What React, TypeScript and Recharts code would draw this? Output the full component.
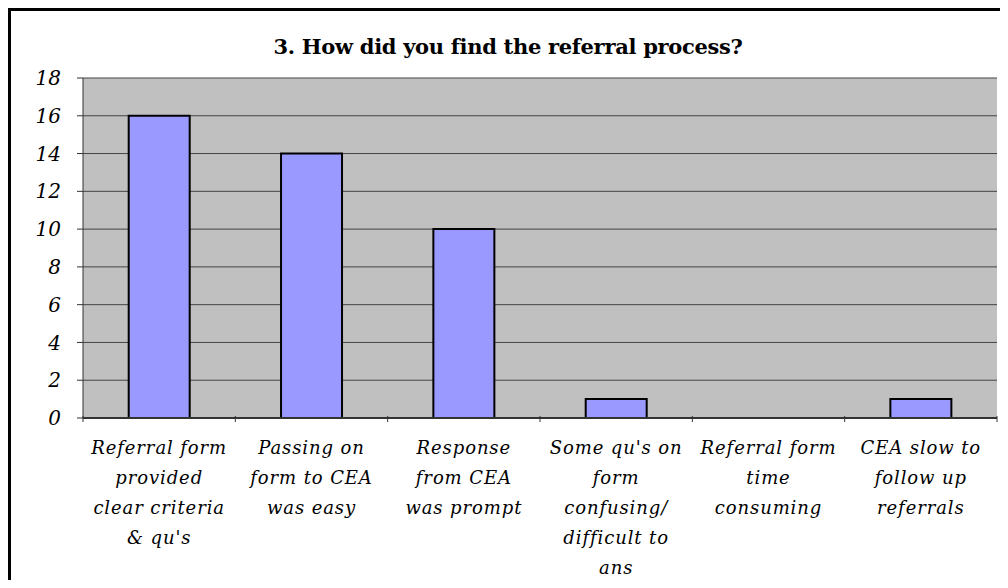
import { Bar, BarChart, CartesianGrid, XAxis, YAxis } from 'recharts'

const categories = [
	'Referral form\nprovided\nclear criteria\n& qu\'s',
	'Passing on\nform to CEA\nwas easy',
	'Response\nfrom CEA\nwas prompt',
	'Some qu\'s on\nform\nconfusing/\ndifficult to\nans',
	'Referral form\ntime\nconsuming',
	'CEA slow to\nfollow up\nreferrals'
]
const responses = [16, 14, 10, 1, 0, 1]
const yTicks = [0, 2, 4, 6, 8, 10, 12, 14, 16, 18]
const title = '3. How did you find the referral process?'

const data = categories.map((name, i) => ({ name, value: responses[i] }))

const serif = 'DejaVu Serif, serif'

function CategoryTick(props: any) {
	const { x, y, payload, index } = props
	const lines = String(payload.value).split('\n')
	const half = payload.offset || 76
	const axisY = y - 10
	return (
		<g>
			<line x1={x - half} x2={x - half} y1={axisY} y2={axisY + 6} stroke='#333' />
			{index === categories.length - 1 && (
				<line x1={x + half} x2={x + half} y1={axisY} y2={axisY + 6} stroke='#333' />
			)}
			<text
				x={x}
				y={axisY + 38}
				textAnchor='middle'
				style={{ fontFamily: serif, fontStyle: 'italic', fontSize: 18, letterSpacing: 0.9 }}
				fill='#000'
			>
				{lines.map((line, i) => (
					<tspan key={i} x={x} dy={i === 0 ? 0 : 30}>
						{line}
					</tspan>
				))}
			</text>
		</g>
	)
}

export default function App() {
	return (
		<div style={{ position: 'relative', width: 1000, height: 572, overflow: 'hidden', background: '#fff' }}>
			<BarChart
				width={1000}
				height={572}
				data={data}
				margin={{ top: 70, right: 11, left: 0, bottom: 0 }}
				barCategoryGap='30%'
			>
				<CartesianGrid
					vertical={false}
					fill='#C0C0C0'
					fillOpacity={1}
					stroke='#444'
					strokeWidth={1}
				/>
				<XAxis
					dataKey='name'
					height={162}
					interval={0}
					tickLine={false}
					axisLine={{ stroke: '#333', strokeWidth: 2 }}
					tick={<CategoryTick />}
				/>
				<XAxis
					xAxisId='top'
					orientation='top'
					dataKey='name'
					height={0}
					tick={false}
					tickLine={false}
					axisLine={{ stroke: '#808080', strokeWidth: 3 }}
				/>
				<YAxis
					width={75}
					domain={[0, 18]}
					ticks={yTicks}
					interval={0}
					tickSize={6}
					tickMargin={16}
					tickLine={{ stroke: '#333' }}
					axisLine={{ stroke: '#333' }}
					tick={{ style: { fontFamily: serif, fontStyle: 'italic', fontSize: 20 }, fill: '#000' }}
				/>
				<YAxis
					yAxisId='right'
					orientation='right'
					width={0}
					domain={[0, 18]}
					tick={false}
					tickLine={false}
					axisLine={{ stroke: '#808080', strokeWidth: 3 }}
				/>
				<Bar
					dataKey='value'
					fill='#9999FF'
					stroke='#000'
					strokeWidth={2}
					isAnimationActive={false}
				/>
			</BarChart>
			<div
				style={{
					position: 'absolute',
					left: 0,
					top: 26,
					width: 1000,
					textAlign: 'center',
					fontFamily: serif,
					fontWeight: 'bold',
					fontSize: 21,
					letterSpacing: -0.3,
					pointerEvents: 'none'
				}}
			>
				{title}
			</div>
			<div
				style={{
					position: 'absolute',
					left: 0,
					top: 0,
					width: 1100,
					height: 700,
					border: '3px solid #000',
					boxSizing: 'border-box',
					pointerEvents: 'none'
				}}
			/>
		</div>
	)
}
